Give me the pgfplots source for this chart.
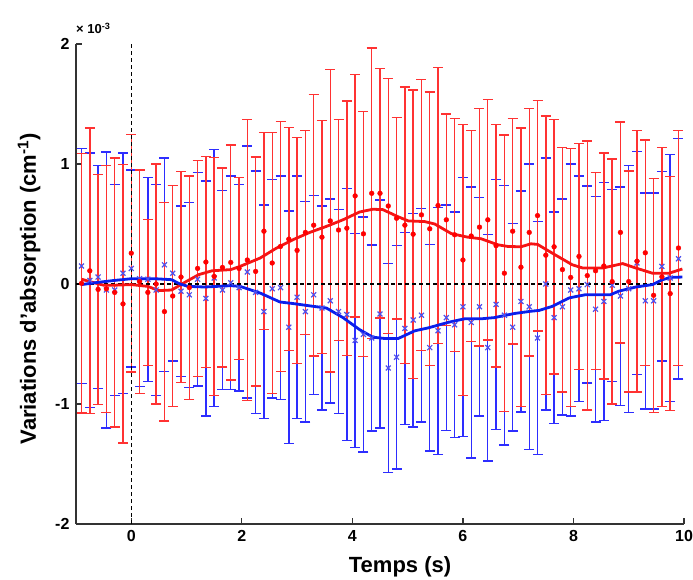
\documentclass[border=0pt]{standalone}
\usepackage{fontspec}
\setmainfont{Liberation Sans}
\usepackage{pgfplots}
\pgfplotsset{compat=1.18}
\usepackage{pgfplotstable}
\definecolor{rd}{RGB}{255,50,50}
\definecolor{bl}{RGB}{45,45,255}
\definecolor{rline}{RGB}{245,20,20}
\definecolor{bline}{RGB}{10,30,235}
\definecolor{bmark}{RGB}{80,80,235}

\pgfplotstableread{
x     r      re     b      be
-0.90  0.006 1.08   0.15  0.98
-0.75  0.11  1.19   0.03  1.06
-0.60 -0.045 0.96   0.058 0.93
-0.45 -0.04  1.03  -0.05  1.15
-0.30 -0.07  1.12  -0.05  0.88
-0.15 -0.166 1.16   0.09  1.00
 0.00  0.257 0.99   0.13  0.82
 0.15  0.02  0.93   0.044 0.90
 0.30 -0.07  0.61   0.04  0.85
 0.45  0.00  1.00  -0.05  0.88
 0.60 -0.23  0.91   0.16  0.89
 0.75 -0.10  0.92   0.09  0.73
 0.90  0.058 0.88  -0.06  0.71
 1.05 -0.03  0.93  -0.09  0.77
 1.20  0.13  0.90   0.04  0.89
 1.35  0.183 0.88  -0.12  0.98
 1.50  0.063 0.99   0.05  1.07
 1.65  0.138 0.83  -0.05  0.83
 1.80  0.18  0.98   0.01  0.89
 1.95  0.13  0.76  -0.03  0.86
 2.10  0.20  1.17   0.10  1.05
 2.25  0.105 0.955 -0.07  1.01
 2.40  0.44  0.82  -0.23  0.89
 2.55  0.175 1.085 -0.04  0.91
 2.70  0.313 1.04  -0.03  0.93
 2.85  0.374 0.93  -0.36  0.97
 3.00  0.28  0.94  -0.11  1.01
 3.15  0.43  0.85  -0.23  0.92
 3.30  0.49  1.09  -0.09  0.83
 3.45  0.39  0.97  -0.20  0.85
 3.60  0.526 1.26  -0.14  0.85
 3.75  0.45  0.92  -0.23  0.85
 3.90  0.465 1.06  -0.255 1.05
 4.05  0.734 1.01  -0.47  0.89
 4.20  0.418 1.02  -0.42  0.98
 4.35  0.756 1.21  -0.45  0.775
 4.50  0.756 1.04  -0.25  0.95
 4.65  0.65  1.06  -0.70  0.87
 4.80  0.548 0.84  -0.61  0.93
 4.95  0.49  1.15  -0.37  0.80
 5.10  0.415 1.20  -0.30  0.89
 5.25  0.576 1.13  -0.26  0.89
 5.40  0.46  1.14  -0.53  0.86
 5.55  0.654 1.15  -0.39  1.03
 5.70  0.535 0.88  -0.28  0.94
 5.85  0.41  0.97  -0.34  0.94
 6.00  0.20  1.13  -0.19  1.08
 6.15  0.40  0.88  -0.32  1.13
 6.30  0.474 0.99  -0.19  0.91
 6.45  0.535 1.00  -0.53  0.945
 6.60  0.32  1.01  -0.17  1.04
 6.75  0.09  1.15  -0.26  1.08
 6.90  0.44  0.94  -0.36  0.865
 7.05  0.14  1.16  -0.145 0.92
 7.20  0.43  1.03  -0.19  1.19
 7.35  0.57  0.96  -0.45  0.97
 7.50  0.24  1.16   0.00  1.05
 7.65  0.31  1.06  -0.28  0.88
 7.80  0.12  1.02  -0.19  0.90
 7.95  0.055 1.075 -0.05  1.05
 8.10  0.23  0.94  -0.04  0.94
 8.25  0.07  1.12  -0.005 0.82
 8.40  0.11  0.82  -0.21  0.94
 8.55  0.15  0.94  -0.145 0.99
 8.70  0.02  1.02  -0.01  0.80
 8.85  0.43  0.92  -0.10  0.91
 9.00  0.02  0.92  -0.04  1.03
 9.15  0.19  1.09   0.175 0.93
 9.30  0.26  0.94  -0.14  0.90
 9.45 -0.094 0.975 -0.14  0.90
 9.60  0.06  1.08   0.147 0.79
 9.75 -0.08  0.975  0.05  1.03
 9.90  0.30  0.98   0.21  1.00
}\data

\pgfplotstableread{
x y
-0.90  0.04
-0.75  0.02
-0.50 -0.01
-0.30 -0.01
 0.00 -0.005
 0.30 -0.02
 0.50 -0.055
 0.73 -0.05
 0.97  0.014
 1.22  0.078
 1.46  0.11
 1.80  0.12
 1.97  0.147
 2.33  0.216
 2.63  0.30
 2.93  0.37
 3.23  0.43
 3.53  0.48
 3.83  0.535
 4.13  0.60
 4.37  0.623
 4.55  0.62
 4.83  0.56
 5.01  0.526
 5.31  0.52
 5.49  0.50
 5.79  0.42
 6.09  0.39
 6.33  0.377
 6.63  0.327
 6.81  0.313
 7.05  0.31
 7.23  0.335
 7.35  0.33
 7.68  0.24
 7.98  0.16
 8.17  0.133
 8.53  0.133
 8.89  0.17
 9.13  0.133
 9.43  0.09
 9.73  0.09
 9.97  0.125
}\redline

\pgfplotstableread{
x y
-0.90 -0.005
-0.60  0.014
-0.30  0.03
 0.00  0.044
 0.43  0.044
 0.73  0.036
 0.88  0.00
 1.03 -0.02
 1.33 -0.025
 1.80 -0.014
 1.97 -0.02
 2.33 -0.075
 2.69 -0.15
 2.93 -0.163
 3.29 -0.186
 3.53 -0.20
 3.83 -0.28
 4.13 -0.38
 4.37 -0.443
 4.58 -0.454
 4.83 -0.454
 5.13 -0.39
 5.37 -0.366
 5.73 -0.32
 6.03 -0.29
 6.33 -0.29
 6.57 -0.28
 6.93 -0.246
 7.23 -0.227
 7.38 -0.22
 7.62 -0.186
 7.92 -0.116
 8.22 -0.089
 8.67 -0.089
 8.82 -0.06
 9.13 -0.025
 9.43 -0.005
 9.61  0.036
 9.76  0.055
 9.97  0.058
}\blueline

\begin{document}
\begin{tikzpicture}
\useasboundingbox (-76pt,-55pt) rectangle (617pt,524pt);
\begin{axis}[
  scale only axis, width=608pt, height=480pt,
  xmin=-1, xmax=10, ymin=-2, ymax=2,
  axis x line*=bottom, axis y line*=left,
  axis line style={line width=1.3pt, black!80},
  xtick={0,2,4,6,8,10}, xticklabels={0,2,4,6,8,10},
  ytick={-2,-1,0,1,2}, yticklabels={-2,-1,0,1,2},
  tick align=inside, major tick length=6pt,
  tick style={line width=1.2pt, black!80},
  ticklabel style={font=\bfseries\fontsize{16}{16}\selectfont},
  xticklabel style={yshift=-3pt},
  yticklabel style={xshift=-3pt},
  xlabel={Temps (s)},
  ylabel={Variations d'absorption (cm\textsuperscript{-1})},
  label style={font=\bfseries\fontsize{22}{22}\selectfont},
  xlabel style={at={(axis description cs:0.533,0)}, anchor=base, yshift=-48pt},
  ylabel style={at={(axis description cs:-0.077,0.49)}, anchor=center},
]
% blue error bars
\addplot[draw=none, mark=none, forget plot,
  error bars/.cd, y dir=both, y explicit,
  error bar style={draw=bl, solid, line width=1.4pt},
  error mark options={draw=bl, solid, rotate=90, mark size=5pt, line width=1.4pt}]
  table[x=x, y=b, y error=be]{\data};
% red error bars
\addplot[draw=none, mark=none, forget plot,
  error bars/.cd, y dir=both, y explicit,
  error bar style={draw=rd, solid, line width=1.4pt},
  error mark options={draw=rd, solid, rotate=90, mark size=5pt, line width=1.4pt}]
  table[x=x, y=r, y error=re]{\data};
% zero lines
\addplot[black, line width=1.1pt, dash pattern=on 4pt off 3pt, forget plot] coordinates {(-1,0) (10,0)};
\addplot[black, line width=1.1pt, dash pattern=on 4pt off 3pt, forget plot] coordinates {(0,-2) (0,2)};
% markers
\addplot[only marks, mark=x, mark size=3.5pt, mark options={draw=bmark, line width=1.2pt, solid}] table[x=x, y=b]{\data};
\addplot[only marks, mark=*, mark size=2.4pt, mark options={fill=red, draw=red, solid}] table[x=x, y=r]{\data};
% smoothed lines
\addplot[rline, line width=2.8pt, mark=none] table[x=x, y=y]{\redline};
\addplot[bline, line width=2.8pt, mark=none] table[x=x, y=y]{\blueline};
\end{axis}
\node[anchor=base west, inner sep=0pt, font=\bfseries\fontsize{13}{13}\selectfont] at (0pt,490pt) {× 10\textsuperscript{-3}};
\end{tikzpicture}
\end{document}
